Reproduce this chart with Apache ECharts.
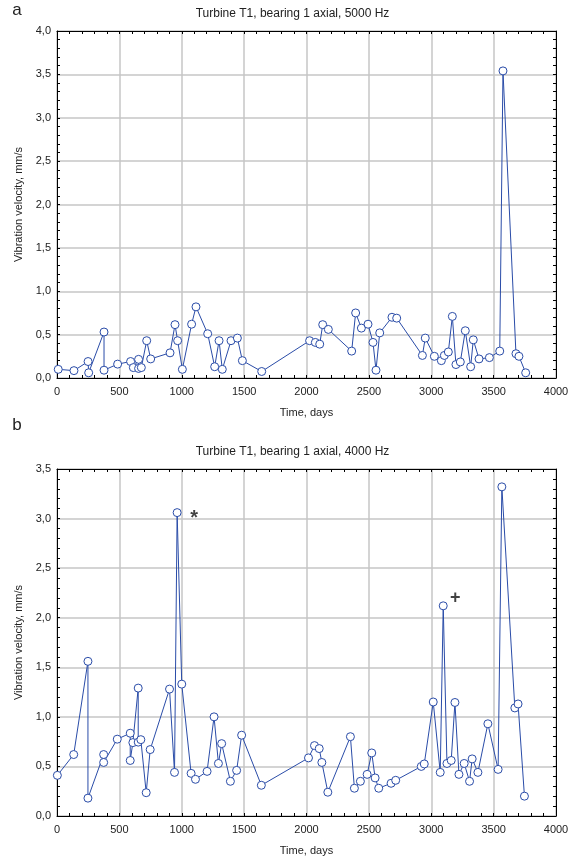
<!DOCTYPE html>
<html>
<head>
<meta charset="utf-8">
<script src="https://cdn.jsdelivr.net/npm/echarts@6/dist/echarts.min.js"></script>
<style>
  html, body { margin: 0; padding: 0; background: #fff; }
  #chart { width: 572px; height: 860px; }
</style>
</head>
<body>
<div id="chart"></div>
<script>
// panel a: 5000 Hz
var daysA = [10, 136, 249, 254, 377, 377, 486, 590, 612, 654, 654, 676, 719, 751, 906, 946, 967, 1005,
  1079, 1114, 1208, 1264, 1299, 1325, 1395, 1446, 1486, 1641, 2025, 2071, 2106, 2130, 2175, 2362,
  2394, 2440, 2493, 2533, 2557, 2587, 2685, 2723, 2929, 2952, 3025, 3081, 3105, 3137, 3169, 3198,
  3233, 3273, 3316, 3337, 3383, 3466, 3549, 3575, 3679, 3703, 3757];
var velA = [0.10, 0.085, 0.19, 0.06, 0.53, 0.09, 0.16, 0.19, 0.12, 0.215, 0.11, 0.12, 0.43, 0.22, 0.29, 0.615, 0.43, 0.10,
  0.62, 0.82, 0.51, 0.13, 0.43, 0.10, 0.43, 0.46, 0.20, 0.075, 0.43, 0.41, 0.39, 0.615, 0.56, 0.31,
  0.75, 0.575, 0.62, 0.41, 0.09, 0.52, 0.70, 0.69, 0.26, 0.46, 0.25, 0.20, 0.26, 0.30, 0.71, 0.155,
  0.185, 0.545, 0.13, 0.44, 0.22, 0.235, 0.31, 3.54, 0.28, 0.25, 0.06];

// panel b: 4000 Hz
var daysB = [3, 134, 248, 248, 374, 374, 483, 587, 587, 608, 651, 651, 672, 715, 747, 902, 942, 963,
  1000, 1075, 1110, 1203, 1259, 1294, 1320, 1390, 1440, 1480, 1638, 2016, 2064, 2102, 2123, 2171,
  2352, 2384, 2432, 2486, 2523, 2550, 2579, 2678, 2715, 2920, 2944, 3016, 3072, 3096, 3126, 3160,
  3190, 3222, 3264, 3307, 3328, 3374, 3454, 3536, 3566, 3670, 3696, 3747];
var velB = [0.41, 0.62, 1.56, 0.18, 0.62, 0.54, 0.775, 0.835, 0.56, 0.74, 1.29, 0.745, 0.77, 0.235, 0.67, 1.28, 0.44, 3.06,
  1.33, 0.43, 0.37, 0.45, 1.00, 0.53, 0.73, 0.35, 0.46, 0.815, 0.31, 0.586, 0.71, 0.68, 0.54, 0.24,
  0.80, 0.28, 0.35, 0.42, 0.636, 0.384, 0.28, 0.33, 0.36, 0.50, 0.525, 1.15, 0.44, 2.12, 0.53, 0.56,
  1.145, 0.42, 0.53, 0.35, 0.576, 0.44, 0.93, 0.47, 3.32, 1.09, 1.13, 0.20];

var titleA = 'Turbine T1, bearing 1 axial, 5000 Hz';
var titleB = 'Turbine T1, bearing 1 axial, 4000 Hz';
var xName = 'Time, days';
var yName = 'Vibration velocity, mm/s';
// [min, max, major step, minor step]
var xTicks = [0, 4000, 500, 100];
var yTicksA = [0, 4, 0.5, 0.1];
var yTicksB = [0, 3.5, 0.5, 0.1];

var FONT = 'Liberation Sans';
var LINE = '#2a4ca8';
var GRIDLINE = '#c6c6c6';

function pairs(xs, ys) {
  return xs.map(function (x, i) { return [x, ys[i]]; });
}

function isMajor(v, step) {
  var r = v / step;
  return Math.abs(r - Math.round(r)) < 1e-6;
}

// 三根轴：主轴(标签, 细刻度向内) / 对侧轴(细刻度向内) / 网格线轴
function axesFor(kind, gi, t) {
  var isX = kind === 'x';
  var main = {
    type: 'value', gridIndex: gi,
    min: t[0], max: t[1], interval: t[3],
    position: isX ? 'bottom' : 'left',
    axisLine: { show: true, onZero: false, lineStyle: { color: '#000', width: 1 } },
    axisTick: { show: true, inside: true, length: 3, lineStyle: { color: '#000' } },
    splitLine: { show: false },
    name: isX ? xName : yName,
    nameLocation: 'middle',
    nameGap: isX ? 29 : 33,
    nameTextStyle: { fontFamily: FONT, fontSize: 11, color: '#222' },
    axisLabel: {
      fontFamily: FONT, fontSize: 11, color: '#222',
      margin: isX ? 8 : 6,
      formatter: function (v) {
        if (!isMajor(v, t[2])) return '';
        return isX ? String(v) : v.toFixed(1).replace('.', ',');
      }
    },
    z: 4
  };
  var mirror = {
    type: 'value', gridIndex: gi,
    min: t[0], max: t[1], interval: t[3],
    position: isX ? 'top' : 'right',
    axisLine: { show: true, onZero: false, lineStyle: { color: '#000', width: 1 } },
    axisTick: { show: true, inside: true, length: 3, lineStyle: { color: '#000' } },
    axisLabel: { show: false },
    splitLine: { show: false },
    z: 4
  };
  var gridAxis = {
    type: 'value', gridIndex: gi,
    min: t[0], max: t[1], interval: t[2],
    axisLine: { show: false, onZero: false },
    axisTick: { show: false },
    axisLabel: { show: false },
    splitLine: { show: true, lineStyle: { color: GRIDLINE, width: 1.5 } },
    z: 1
  };
  return [main, mirror, gridAxis];
}

function lineSeries(xi, yi, data) {
  return {
    type: 'line', xAxisIndex: xi, yAxisIndex: yi,
    data: data,
    symbol: 'circle', symbolSize: 8,
    showAllSymbol: true,
    lineStyle: { color: LINE, width: 1 },
    itemStyle: { color: '#fff', borderColor: LINE, borderWidth: 1 },
    emphasis: { disabled: true },
    animation: false,
    z: 5
  };
}

// 注释标记：* 与 +
function noteSeries(xi, yi, idx, text, size, offset) {
  return {
    type: 'scatter', xAxisIndex: xi, yAxisIndex: yi,
    data: [[daysB[idx], velB[idx]]],
    symbolSize: 1,
    itemStyle: { color: 'rgba(0,0,0,0)' },
    label: {
      show: true, formatter: text, position: 'inside',
      fontFamily: FONT, fontSize: size, fontWeight: 'bold', color: '#111', offset: offset
    },
    emphasis: { disabled: true },
    animation: false,
    z: 6
  };
}

function textEl(str, x, y, size) {
  return {
    type: 'text', x: x, y: y,
    style: {
      text: str, fill: '#222', font: size + 'px "' + FONT + '"',
      textAlign: 'center', textVerticalAlign: 'middle'
    }
  };
}

var chart = echarts.init(document.getElementById('chart'), null, { renderer: 'canvas' });

var xa = axesFor('x', 0, xTicks), xb = axesFor('x', 1, xTicks);
var ya = axesFor('y', 0, yTicksA), yb = axesFor('y', 1, yTicksB);

chart.setOption({
  backgroundColor: '#fff',
  graphic: [
    textEl('a', 17, 10, 17),
    textEl(titleA, 292.5, 14, 12),
    textEl('b', 17, 425, 17),
    textEl(titleB, 292.5, 452, 12)
  ],
  grid: [
    { left: 57, top: 31, width: 499, height: 347 },
    { left: 57, top: 469, width: 499, height: 347 }
  ],
  xAxis: xa.concat(xb),
  yAxis: ya.concat(yb),
  series: [
    lineSeries(0, 0, pairs(daysA, velA)),
    lineSeries(3, 3, pairs(daysB, velB)),
    noteSeries(3, 3, 17, '*', 20, [17, 6]),
    noteSeries(3, 3, 47, '+', 18, [12, -8])
  ]
});
</script>
</body>
</html>
